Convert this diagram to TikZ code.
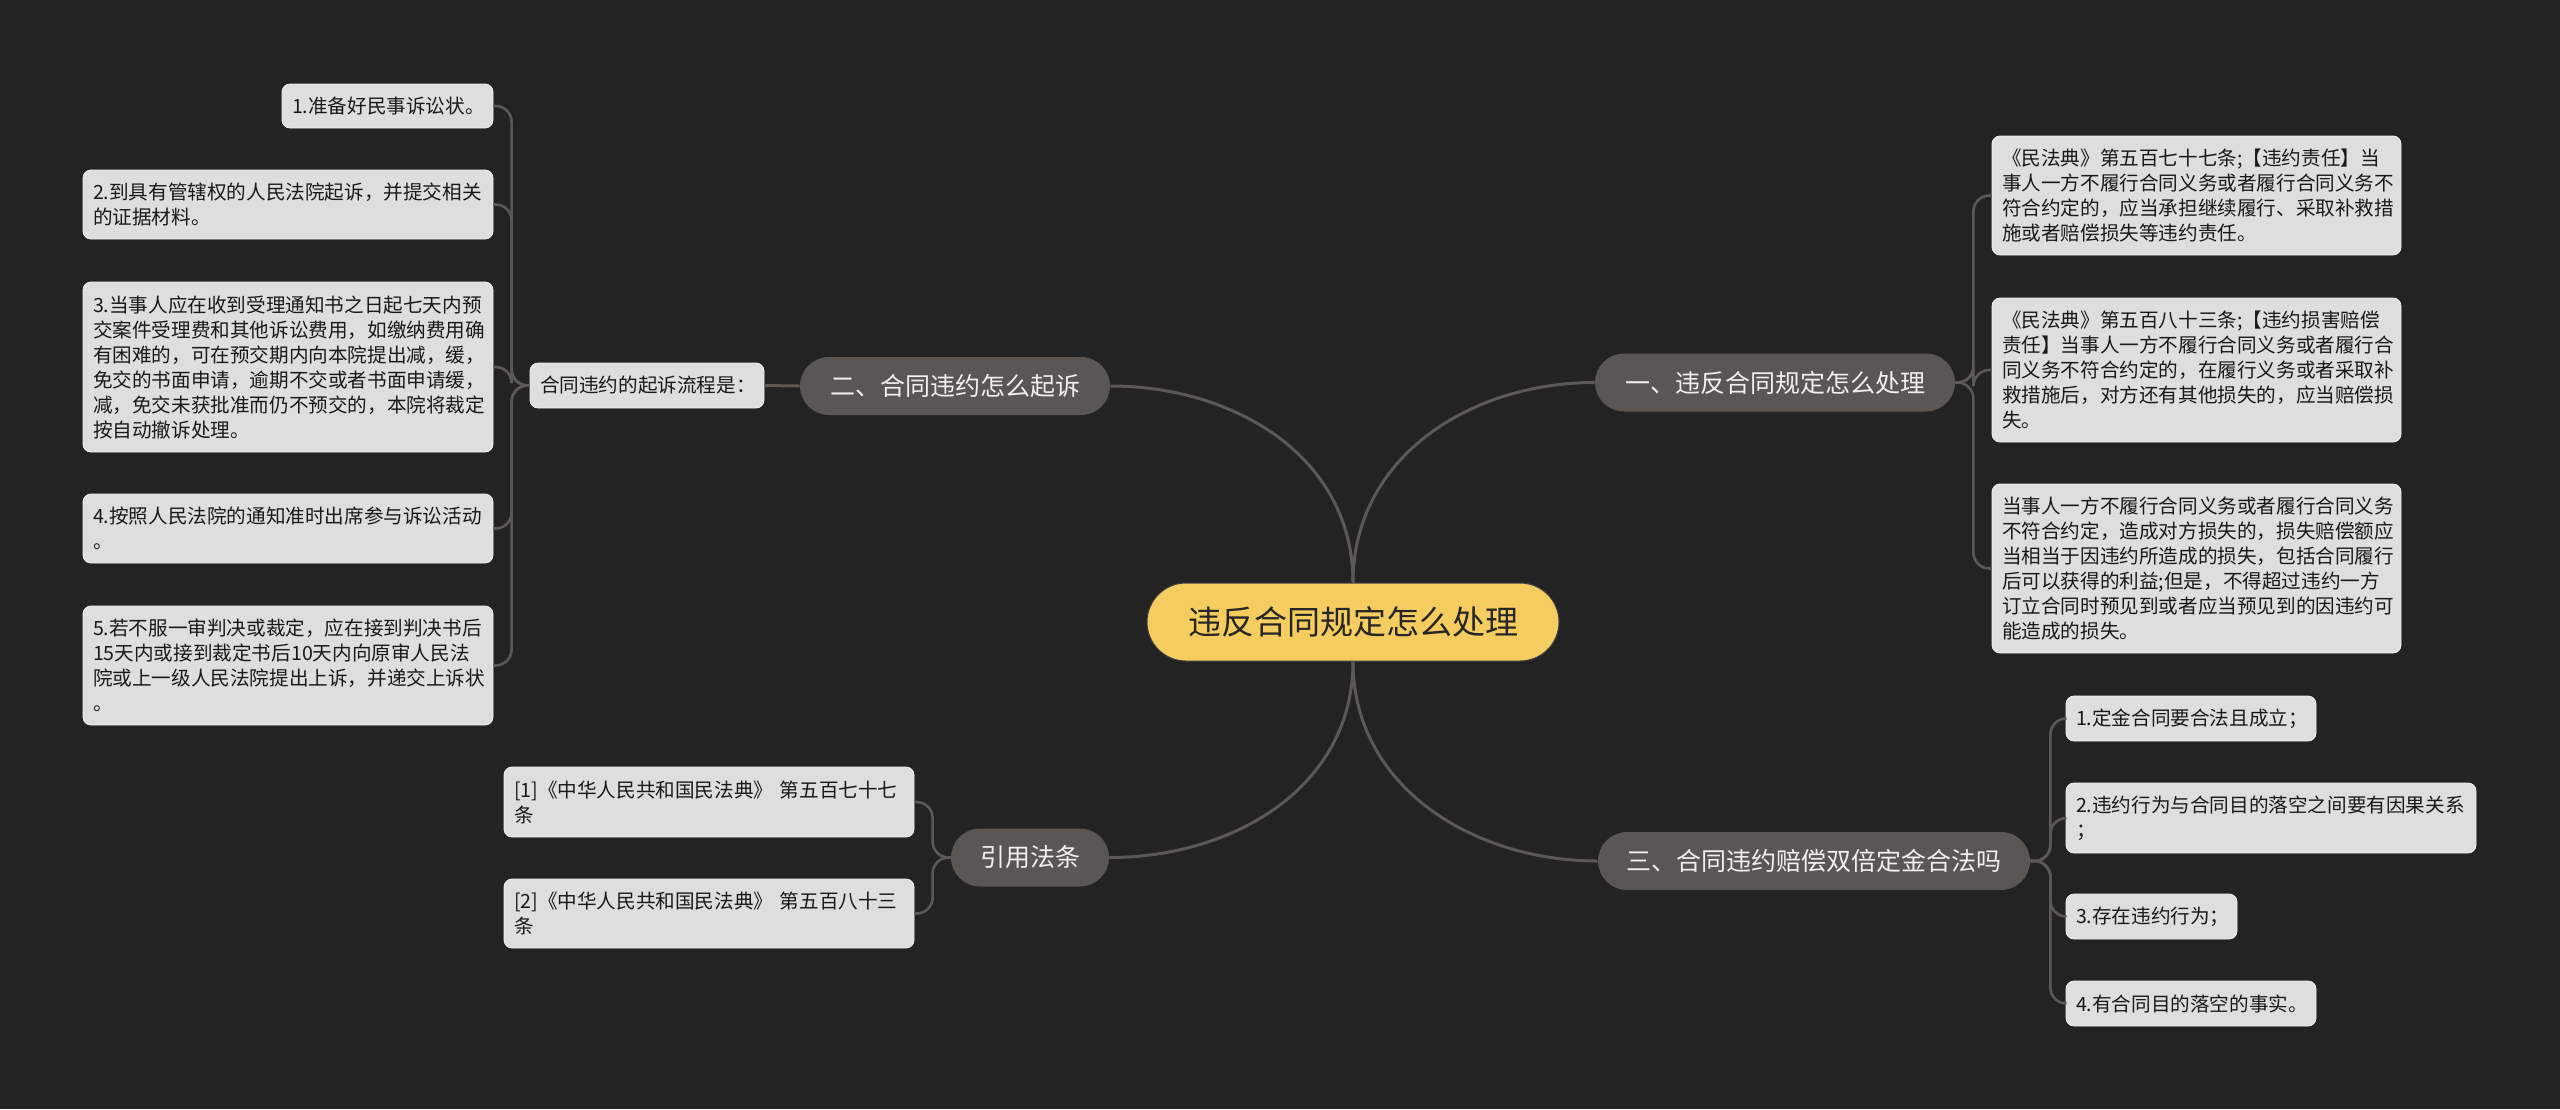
\documentclass[tikz,border=0pt]{standalone}
\usepackage{fontspec}
\setmainfont{Noto Sans CJK SC}
\usetikzlibrary{positioning}
\definecolor{board}{HTML}{232323}
\definecolor{rootc}{HTML}{F4CC5F}
\definecolor{branchc}{HTML}{5A5653}
\definecolor{leafc}{HTML}{DEDEDE}
\definecolor{linkc}{HTML}{5C5855}
\tikzset{rootnode/.style={fill=rootc, draw=black!75, line width=0.5pt,
    rounded corners=19.5pt, minimum width=206pt, minimum height=39pt,
    inner sep=0pt, text=black!85, font=\fontsize{16.5}{20}\selectfont},
  branch/.style={fill=branchc, rounded corners=14.5pt, minimum height=29pt,
    inner sep=0pt, text=white!94!black, font=\fontsize{12.5}{15}\selectfont},
  leaf/.style={fill=leafc, draw=white!55!leafc, line width=0.4pt,
    rounded corners=4pt, inner xsep=5pt, inner ysep=0pt, text width=#1,
    align=left, text=black!90, font=\fontsize{9.8}{12.5}\selectfont},
  link/.style={draw=linkc, line width=1.5pt},
  fork/.style={draw=linkc, line width=1.3pt, rounded corners=8pt}}

\begin{document}
\begin{tikzpicture}[x=0.5pt, y=-0.5pt]
\fill[board] (0,0) rectangle (2560,1109);
\useasboundingbox (0,0) rectangle (2560,1109);

\node[rootnode] (root) at (1353,622) {违反合同规定怎么处理};

\node[branch, minimum width=180pt] (b1) at (1775,382.5) {一、违反合同规定怎么处理};
\node[branch, minimum width=155pt] (b2) at (955,386) {二、合同违约怎么起诉};
\node[branch, minimum width=216pt] (b3) at (1814,861) {三、合同违约赔偿双倍定金合法吗};
\node[branch, minimum width=79pt] (b4) at (1030,857.5) {引用法条};

% left side: filing steps
\node[leaf=107pt, minimum height=22.5pt] (sub) at (647,385.5) {合同违约的起诉流程是：};
\node[leaf=95.5pt, minimum height=22pt] (l1) at (387.5,106) {1.准备好民事诉讼状。};
\node[leaf=195pt, minimum height=34.5pt] (l2) at (288,204.5)
  {2.到具有管辖权的人民法院起诉，并提交相关\\的证据材料。};
\node[leaf=195pt, minimum height=85pt] (l3) at (288,367)
  {3.当事人应在收到受理通知书之日起七天内预\\交案件受理费和其他诉讼费用，如缴纳费用确\\有困难的，可在预交期内向本院提出减，缓，\\免交的书面申请，逾期不交或者书面申请缓，\\减，免交未获批准而仍不预交的，本院将裁定\\按自动撤诉处理。};
\node[leaf=195pt, minimum height=34.5pt] (l4) at (288,528.5)
  {4.按照人民法院的通知准时出席参与诉讼活动\\。};
\node[leaf=195pt, minimum height=59.5pt] (l5) at (288,665.5)
  {5.若不服一审判决或裁定，应在接到判决书后\\15天内或接到裁定书后10天内向原审人民法\\院或上一级人民法院提出上诉，并递交上诉状\\。};

% right side: articles
\node[leaf=194.5pt, minimum height=59.5pt] (r1) at (2196.5,195.5)
  {《民法典》第五百七十七条;【违约责任】当\\事人一方不履行合同义务或者履行合同义务不\\符合约定的，应当承担继续履行、采取补救措\\施或者赔偿损失等违约责任。};
\node[leaf=194.5pt, minimum height=72pt] (r2) at (2196.5,370)
  {《民法典》第五百八十三条;【违约损害赔偿\\责任】当事人一方不履行合同义务或者履行合\\同义务不符合约定的，在履行义务或者采取补\\救措施后，对方还有其他损失的，应当赔偿损\\失。};
\node[leaf=194.5pt, minimum height=84.5pt] (r3) at (2196.5,568.5)
  {当事人一方不履行合同义务或者履行合同义务\\不符合约定，造成对方损失的，损失赔偿额应\\当相当于因违约所造成的损失，包括合同履行\\后可以获得的利益;但是，不得超过违约一方\\订立合同时预见到或者应当预见到的因违约可\\能造成的损失。};

\node[leaf=115pt, minimum height=22.5pt] (t1) at (2191,718.5) {1.定金合同要合法且成立；};
\node[leaf=195pt, minimum height=35pt] (t2) at (2271,818)
  {2.违约行为与合同目的落空之间要有因果关系\\；};
\node[leaf=75.5pt, minimum height=22.5pt] (t3) at (2151.5,916.5) {3.存在违约行为；};
\node[leaf=115pt, minimum height=22.5pt] (t4) at (2191,1003.5) {4.有合同目的落空的事实。};

\node[leaf=195pt, minimum height=35pt] (c1) at (709,802)
  {[1]《中华人民共和国民法典》 第五百七十七\\条};
\node[leaf=195pt, minimum height=34.5pt] (c2) at (709,913.5)
  {[2]《中华人民共和国民法典》 第五百八十三\\条};

\draw[link] (root.north) .. controls +(0,-125) and +(-125,0) .. (b1.west);
\draw[link] (root.north) .. controls +(0,-125) and +(125,0) .. (b2.east);
\draw[link] (root.south) .. controls +(0,125) and +(-125,0) .. (b3.west);
\draw[link] (root.south) .. controls +(0,125) and +(125,0) .. (b4.east);
\draw[link] (b2.west) -- (sub.east);

\foreach \n in {l1,l2,l3,l4,l5}
  \draw[fork] (sub.west) -- ++(-18,0) |- (\n.east);
\foreach \n in {r1,r2,r3}
  \draw[fork] (b1.east) -- ++(18,0) |- (\n.west);
\foreach \n in {t1,t2,t3,t4}
  \draw[fork] (b3.east) -- ++(20,0) |- (\n.west);
\foreach \n in {c1,c2}
  \draw[fork] (b4.west) -- ++(-18,0) |- (\n.east);
\end{tikzpicture}
\end{document}
